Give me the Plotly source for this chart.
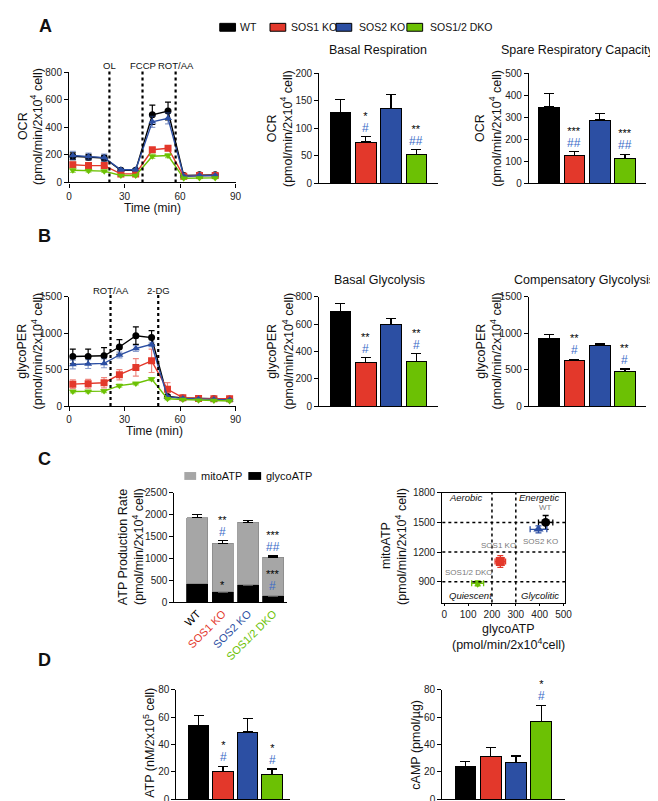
import plotly.graph_objects as go

W, H = 658, 801
FONT = "Liberation Sans, Arial, Helvetica, sans-serif"

# ---------------- data ----------------
groups = ["WT", "SOS1 KO", "SOS2 KO", "SOS1/2 DKO"]
group_colors = ["#000000", "#e3382b", "#2c4fa3", "#6cc104"]
err_colors = ["#000000", "rgba(227,56,43,0.6)", "rgba(44,79,163,0.55)", "rgba(108,193,4,0.6)"]
group_symbols = ["circle", "square", "triangle-up", "triangle-down"]
hash_color = "#3b6cc8"

# A: OCR kinetics
ocr_time = [2, 10.5, 19, 28, 36, 45, 53.5, 62, 70.5, 79]
ocr_wt = [190, 183, 177, 88, 88, 490, 518, 50, 55, 55]
ocr_sos1 = [128, 122, 122, 62, 62, 237, 248, 45, 50, 50]
ocr_sos2 = [195, 188, 180, 92, 92, 440, 465, 45, 50, 50]
ocr_dko = [88, 85, 82, 50, 50, 190, 195, 30, 33, 33]
ocr_wt_err = [25, 20, 20, 10, 10, 70, 65, 8, 8, 8]
ocr_sos1_err = [20, 15, 15, 8, 8, 15, 15, 5, 5, 5]
ocr_sos2_err = [30, 25, 25, 10, 10, 40, 40, 8, 8, 8]
ocr_dko_err = [15, 10, 10, 5, 5, 15, 15, 5, 5, 5]
ocr_injections = [21.8, 39.7, 57.6]
ocr_injection_labels = ["OL", "FCCP", "ROT/AA"]

basal_resp = [129, 75, 136, 53]
basal_resp_err = [23, 10, 25, 8]
basal_resp_stars = ["", "*", "", "**"]
basal_resp_hash = ["", "#", "", "##"]

spare_resp = [346, 127, 287, 112]
spare_resp_err = [60, 17, 30, 20]
spare_resp_stars = ["", "***", "", "***"]
spare_resp_hash = ["", "##", "", "##"]

# B: glycoPER kinetics
per_time = [2, 10.3, 18.9, 27.2, 36.1, 44.6, 53.2, 61.5, 70, 78.3, 86.8]
per_wt = [680, 680, 690, 810, 965, 940, 130, 110, 100, 100, 95]
per_sos1 = [300, 305, 320, 430, 530, 620, 230, 115, 105, 100, 100]
per_sos2 = [570, 575, 585, 700, 790, 845, 125, 105, 95, 90, 85]
per_dko = [200, 200, 205, 280, 310, 370, 100, 90, 80, 75, 70]
per_wt_err = [100, 100, 110, 100, 120, 95, 20, 15, 15, 15, 15]
per_sos1_err = [60, 60, 70, 70, 120, 160, 90, 20, 15, 15, 15]
per_sos2_err = [60, 60, 60, 40, 40, 30, 20, 15, 15, 15, 15]
per_dko_err = [20, 20, 20, 20, 20, 20, 15, 10, 10, 10, 10]
per_injections = [22.4, 48.2]
per_injection_labels = ["ROT/AA", "2-DG"]

basal_glyco = [690, 318, 595, 328]
basal_glyco_err = [62, 35, 45, 55]
basal_glyco_stars = ["", "**", "", "**"]
basal_glyco_hash = ["", "#", "", "#"]

comp_glyco = [930, 625, 835, 470]
comp_glyco_err = [50, 15, 15, 40]
comp_glyco_stars = ["", "**", "", "**"]
comp_glyco_hash = ["", "#", "", "#"]

# C: ATP production rate
glyco_atp = [420, 230, 390, 140]
glyco_atp_err = [30, 20, 30, 20]
mito_atp = [1510, 1110, 1435, 885]
total_atp_err = [70, 60, 40, 30]
total_stars = ["", "**", "", "***"]
total_hash = ["", "#", "", "##"]
glyco_stars = ["", "*", "", "***"]
glyco_hash = ["", "", "", "#"]

# C: energy map
map_glyco = [425, 235, 395, 140]
map_glyco_err = [30, 22, 35, 25]
map_mito = [1500, 1105, 1430, 885]
map_mito_err = [70, 60, 35, 25]
map_vlines = [200, 300]
map_hlines = [900, 1200, 1500]

# D
atp_level = [54, 20, 49, 18]
atp_level_err = [7, 4, 10, 4]
atp_stars = ["", "*", "", "*"]
atp_hash = ["", "#", "", "#"]
camp = [23.5, 31, 26.5, 56.5]
camp_err = [4, 6.5, 5, 12]
camp_stars = ["", "", "", "*"]
camp_hash = ["", "", "", "#"]

# ---------------- figure ----------------
fig = go.Figure()
lay = dict(width=W, height=H, margin=dict(l=0, r=0, t=0, b=0),
           paper_bgcolor="white", plot_bgcolor="white", showlegend=False,
           barmode="stack", font=dict(family=FONT, size=10, color="#222"))
annotations = []
shapes = []


def names(n):
    if n == 1:
        return "xaxis", "yaxis", "x", "y"
    return f"xaxis{n}", f"yaxis{n}", f"x{n}", f"y{n}"


def add_axes(n, box, xr, yr, yticks, xticks=None, xticktext=None, xangle=None, mirror=False, xticklen=4):
    x0, x1, y0, y1 = box
    xa, ya, xref, yref = names(n)
    base = dict(showline=True, linecolor="black", linewidth=1.3, showgrid=False,
                zeroline=False, ticks="outside", ticklen=4, tickwidth=1.3,
                tickcolor="black", tickfont=dict(size=10, color="#222", family=FONT),
                mirror=mirror, fixedrange=True)
    xd = dict(base, domain=[x0 / W, x1 / W], anchor=yref, range=xr, ticklen=xticklen)
    if xticks is None:
        xd.update(showticklabels=False, ticks="")
    else:
        xd.update(tickmode="array", tickvals=xticks,
                  ticktext=xticktext if xticktext else [str(t) for t in xticks])
    if xangle is not None:
        xd.update(tickangle=xangle, ticks="", tickfont=dict(size=11, family=FONT))
    yd = dict(base, domain=[1 - y1 / H, 1 - y0 / H], anchor=xref, range=yr,
              tickmode="array", tickvals=yticks, ticktext=[str(t) for t in yticks])
    lay[xa] = xd
    lay[ya] = yd
    return xref, yref


def text(x, y, s, size=10, color="#111", xanchor="center", yanchor="middle", angle=0, bold=False, italic=False):
    if bold:
        s = f"<b>{s}</b>"
    if italic:
        s = f"<i>{s}</i>"
    annotations.append(dict(x=x / W, y=1 - y / H, xref="paper", yref="paper", text=s,
                            showarrow=False, xanchor=xanchor, yanchor=yanchor,
                            textangle=angle, font=dict(size=size, color=color, family=FONT)))


def ylabel(x1, x2, yc, l1, l2, size=12.5):
    text(x1, yc, l1, size=size, angle=-90)
    text(x2, yc, l2, size=size, angle=-90)


def add_bars(xref, yref, vals, errs, width=0.82):
    fig.add_trace(go.Bar(x=list(range(len(vals))), y=vals, xaxis=xref, yaxis=yref, width=width,
                         marker=dict(color=group_colors, line=dict(color="black", width=1)),
                         error_y=dict(type="data", array=errs, arrayminus=[0] * len(errs),
                                      symmetric=False, color="black", thickness=1.3, width=5)))


def add_sig(xref, yref, tops, stars, hashes):
    for i, (t, s, h) in enumerate(zip(tops, stars, hashes)):
        if not (s or h):
            continue
        parts = []
        if s:
            parts.append(f'<span style="font-size:11px;color:black">{s}</span>')
        if h:
            parts.append(f'<span style="font-size:12px;color:{hash_color}">{h}</span>')
        annotations.append(dict(x=i, y=t, xref=xref, yref=yref, text="<br>".join(parts),
                                showarrow=False, yanchor="bottom", yshift=1 if h else -1,
                                borderpad=0,
                                font=dict(size=9.5, color="black", family=FONT)))


def add_kinetics(xref, yref, t, series, errs, injections, inj_labels, label_y):
    for k in range(4):
        fig.add_trace(go.Scatter(x=t, y=series[k], xaxis=xref, yaxis=yref, mode="lines+markers",
                                 line=dict(color=group_colors[k], width=1.4),
                                 marker=dict(symbol=group_symbols[k], size=7, color=group_colors[k]),
                                 error_y=dict(type="data", array=errs[k], color=err_colors[k],
                                              thickness=1.2, width=3)))
    for xv, lab in zip(injections, inj_labels):
        shapes.append(dict(type="line", xref=xref, yref=yref + " domain", x0=xv, x1=xv, y0=0, y1=1.03,
                           line=dict(color="black", width=2.2, dash="dot")))
        annotations.append(dict(x=xv, y=1 - label_y / H, xref=xref, yref="paper", text=lab,
                                showarrow=False, xanchor="center", yanchor="middle",
                                font=dict(size=9.5, color="#111", family=FONT)))


sup4 = "(pmol/min/2x10<sup>4</sup> cell)"

# ---- Panel A ----
text(35, 12, "A", size=18, bold=True)
xr, yr = add_axes(1, (59, 228, 59, 171), [0, 90], [0, 800], [0, 200, 400, 600, 800], xticks=[0, 30, 60, 90])
add_kinetics(xr, yr, ocr_time, [ocr_wt, ocr_sos1, ocr_sos2, ocr_dko],
             [ocr_wt_err, ocr_sos1_err, ocr_sos2_err, ocr_dko_err], ocr_injections, ocr_injection_labels, 52)
text(144, 197, "Time (min)", size=12)
ylabel(12, 26, 114, "OCR", sup4)

xr, yr = add_axes(2, (313, 434, 60, 172), [-0.84, 3.87], [0, 200], [0, 50, 100, 150, 200])
add_bars(xr, yr, basal_resp, basal_resp_err)
add_sig(xr, yr, [v + e for v, e in zip(basal_resp, basal_resp_err)], basal_resp_stars, basal_resp_hash)
text(373, 37, "Basal Respiration", size=12.5)
ylabel(265, 280, 116, "OCR", sup4)

xr, yr = add_axes(3, (526, 645, 60, 172), [-0.8, 3.84], [0, 500], [0, 100, 200, 300, 400, 500])
add_bars(xr, yr, spare_resp, spare_resp_err)
add_sig(xr, yr, [v + e for v, e in zip(spare_resp, spare_resp_err)], spare_resp_stars, spare_resp_hash)
text(656, 37, "Spare Respiratory Capacity", size=12.5, xanchor="right")
ylabel(476, 492, 116, "OCR", sup4)

# legend (top)
leg_box_x = [212, 263, 330, 402]
leg_txt_x = [231, 282, 351, 423]
for k in range(4):
    shapes.append(dict(type="rect", xref="paper", yref="paper", x0=leg_box_x[k] / W, x1=(leg_box_x[k] + 16) / W,
                       y0=1 - 17.5 / H, y1=1 - 9.5 / H, fillcolor=group_colors[k],
                       line=dict(color="black", width=1)))
    text(leg_txt_x[k], 13.5, groups[k], size=10.5, xanchor="left")

# ---- Panel B ----
text(34, 225, "B", size=18, bold=True)
xr, yr = add_axes(4, (59, 228, 287, 398), [0, 90], [0, 1500], [0, 500, 1000, 1500], xticks=[0, 30, 60, 90])
add_kinetics(xr, yr, per_time, [per_wt, per_sos1, per_sos2, per_dko],
             [per_wt_err, per_sos1_err, per_sos2_err, per_dko_err], per_injections, per_injection_labels, 281)
text(146, 423, "Time (min)", size=12)
ylabel(11, 26, 342, "glycoPER", sup4)

xr, yr = add_axes(5, (313, 434, 287, 398), [-0.84, 3.87], [0, 800], [0, 200, 400, 600, 800])
add_bars(xr, yr, basal_glyco, basal_glyco_err)
add_sig(xr, yr, [v + e for v, e in zip(basal_glyco, basal_glyco_err)], basal_glyco_stars, basal_glyco_hash)
text(374, 270, "Basal Glycolysis", size=12.5)
ylabel(265, 281, 342, "glycoPER", sup4)

xr, yr = add_axes(6, (526, 645, 287, 398), [-0.8, 3.84], [0, 1500], [0, 500, 1000, 1500])
add_bars(xr, yr, comp_glyco, comp_glyco_err)
add_sig(xr, yr, [v + e for v, e in zip(comp_glyco, comp_glyco_err)], comp_glyco_stars, comp_glyco_hash)
text(656, 270, "Compensatory Glycolysis", size=12.5, xanchor="right")
ylabel(477, 492, 342, "glycoPER", sup4)

# ---- Panel C ----
text(34, 452, "C", size=18, bold=True)
tick_html = [f'<span style="color:{c}">{g}</span>' for g, c in zip(groups, group_colors)]
xr, yr = add_axes(7, (166, 280, 486, 597), [-0.91, 3.53], [0, 2500], [0, 500, 1000, 1500, 2000, 2500],
                  xticks=[0, 1, 2, 3], xticktext=tick_html, xangle=-45)
fig.add_trace(go.Bar(x=[0, 1, 2, 3], y=glyco_atp, xaxis=xr, yaxis=yr, width=0.83,
                     marker=dict(color="black", line=dict(color="black", width=0.8)),
                     error_y=dict(type="data", array=glyco_atp_err, arrayminus=[0] * 4, symmetric=False,
                                  color="#555", thickness=1.3, width=5)))
fig.add_trace(go.Bar(x=[0, 1, 2, 3], y=mito_atp, xaxis=xr, yaxis=yr, width=0.83,
                     marker=dict(color="#a6a6a6", line=dict(color="#8a8a8a", width=0.8)),
                     error_y=dict(type="data", array=total_atp_err, arrayminus=[0] * 4, symmetric=False,
                                  color="black", thickness=1.3, width=5)))
add_sig(xr, yr, [g + m + e for g, m, e in zip(glyco_atp, mito_atp, total_atp_err)], total_stars, total_hash)
add_sig(xr, yr, [g + e for g, e in zip(glyco_atp, glyco_atp_err)], glyco_stars, glyco_hash)
ylabel(114, 129, 541, "ATP Production Rate", sup4)
shapes.append(dict(type="rect", xref="paper", yref="paper", x0=176 / W, x1=188 / W, y0=1 - 473 / H,
                   y1=1 - 465 / H, fillcolor="#a6a6a6", line=dict(color="#a6a6a6", width=0)))
text(191, 469, "mitoATP", size=11, xanchor="left")
shapes.append(dict(type="rect", xref="paper", yref="paper", x0=241 / W, x1=254 / W, y0=1 - 473 / H,
                   y1=1 - 465 / H, fillcolor="black", line=dict(color="black", width=0)))
text(257, 469, "glycoATP", size=11, xanchor="left")

# energy map
xr, yr = add_axes(8, (438, 563, 486, 597.5), [-8, 508], [690, 1800], [900, 1200, 1500, 1800],
                  xticks=[0, 100, 200, 300, 400, 500], mirror=True, xticklen=2)
for xv in map_vlines:
    shapes.append(dict(type="line", xref=xr, yref=yr + " domain", x0=xv, x1=xv, y0=0, y1=1,
                       line=dict(color="black", width=1.5, dash="dot")))
for yv in map_hlines:
    shapes.append(dict(type="line", xref=xr + " domain", yref=yr, x0=0, x1=1, y0=yv, y1=yv,
                       line=dict(color="black", width=1.5, dash="dot")))
for k in range(4):
    fig.add_trace(go.Scatter(x=[map_glyco[k]], y=[map_mito[k]], xaxis=xr, yaxis=yr, mode="markers",
                             marker=dict(symbol=group_symbols[k], size=9, color=group_colors[k]),
                             error_x=dict(type="data", array=[map_glyco_err[k]], color=group_colors[k],
                                          thickness=1.3, width=3),
                             error_y=dict(type="data", array=[map_mito_err[k]], color=group_colors[k],
                                          thickness=1.3, width=3)))
lbl_shift = [(0, 15), (-2, 16), (2, -12), (-9, 11)]
for k in range(4):
    annotations.append(dict(x=map_glyco[k], y=map_mito[k], xref=xr, yref=yr, text=groups[k], showarrow=False,
                            xshift=lbl_shift[k][0], yshift=lbl_shift[k][1],
                            font=dict(size=8, color="#7a7a7a", family=FONT)))
text(443, 491, "Aerobic", size=9.5, xanchor="left", italic=True)
text(558, 491, "Energetic", size=9.5, xanchor="right", italic=True)
text(443, 590, "Quiescent", size=9.5, xanchor="left", italic=True)
text(558, 590, "Glycolitic", size=9.5, xanchor="right", italic=True)
ylabel(381, 396, 540, "mitoATP", sup4)
text(505, 624, "glycoATP", size=12.5)
text(505, 640, "(pmol/min/2x10<sup>4</sup>cell)", size=12.5)

# ---- Panel D ----
text(34, 656, "D", size=18, bold=True)
xr, yr = add_axes(9, (168, 283, 686, 797), [-0.9, 3.72], [0, 80], [0, 20, 40, 60, 80])
add_bars(xr, yr, atp_level, atp_level_err, width=0.84)
add_sig(xr, yr, [v + e for v, e in zip(atp_level, atp_level_err)], atp_stars, atp_hash)
text(140, 740, "ATP (nM/2x10<sup>5</sup> cell)", size=12.5, angle=-90)

xr, yr = add_axes(10, (438, 563, 686, 797), [-0.91, 3.95], [0, 80], [0, 20, 40, 60, 80])
add_bars(xr, yr, camp, camp_err, width=0.82)
add_sig(xr, yr, [v + e for v, e in zip(camp, camp_err)], camp_stars, camp_hash)
text(411, 742, "cAMP (pmol/µg)", size=12.5, angle=-90)

lay["annotations"] = annotations
lay["shapes"] = shapes
fig.update_layout(**lay)
fig.write_html("out.html")
